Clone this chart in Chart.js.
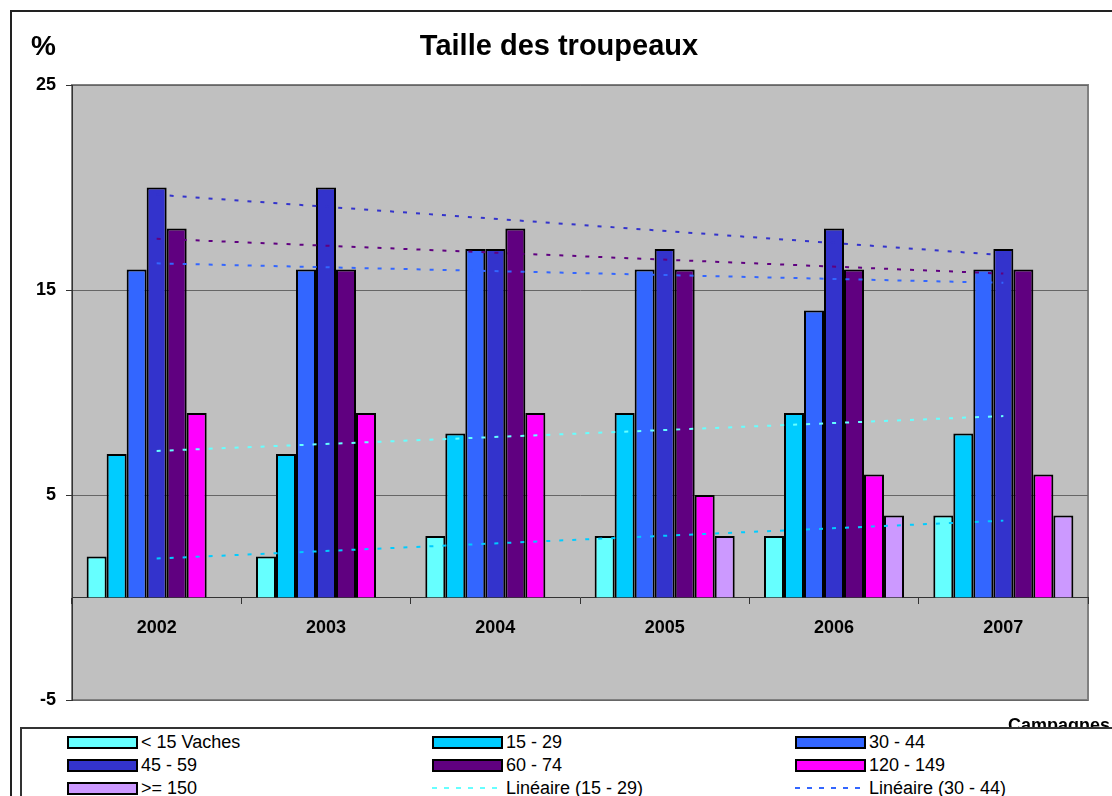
<!DOCTYPE html>
<html>
<head>
<meta charset="utf-8">
<script src="https://cdn.jsdelivr.net/npm/chart.js@4/dist/chart.umd.min.js"></script>
<style>
  html, body { margin: 0; padding: 0; background: #fff; }
  #wrap { position: relative; width: 1112px; height: 796px; overflow: hidden; font-family: "Liberation Sans", Arial, sans-serif; }
  #c { position: absolute; left: 0; top: 0; }
  #legend { position: absolute; left: 20px; top: 727px; width: 1200px; height: 200px; background: #fff; border: 2px solid #333; box-sizing: border-box; }
  .item { position: absolute; height: 20px; display: flex; align-items: center; font-size: 18px; color: #000; white-space: nowrap; }
  .sw { width: 71px; height: 13px; box-sizing: border-box; border: 2px solid #000; margin-right: 3px; }
  .ln { width: 71px; height: 2px; margin-right: 3px; }
</style>
</head>
<body>
<div id="wrap">
  <canvas id="c" width="1112" height="796"></canvas>
  <div id="legend"></div>
</div>
<script>
// ---- data ----
const chartTitle = 'Taille des troupeaux';
const yUnit = '%';
const xTitle = 'Campagnes';
const categories = ['2002', '2003', '2004', '2005', '2006', '2007'];
const seriesNames = ['< 15 Vaches', '15 - 29', '30 - 44', '45 - 59', '60 - 74', '120 - 149', '>= 150'];
const lt15    = [2, 2, 3, 3, 3, 4];
const s15_29  = [7, 7, 8, 9, 9, 8];
const s30_44  = [16, 16, 17, 16, 14, 16];
const s45_59  = [20, 20, 17, 17, 18, 17];
const s60_74  = [18, 16, 18, 16, 16, 16];
const s120_149 = [9, 9, 9, 5, 6, 6];
const ge150   = [null, null, null, 3, 4, 4];
// linear trend lines: start (2002) and end (2007) values
const trendLt15   = [1.9, null, null, null, null, 3.75];
const trend15_29  = [7.15, null, null, null, null, 8.85];
const trend30_44  = [16.3, null, null, null, null, 15.35];
const trend45_59  = [19.65, null, null, null, null, 16.7];
const trend60_74  = [17.5, null, null, null, null, 15.8];
const trendNames = ['Linéaire (15 - 29)', 'Linéaire (30 - 44)', 'Linéaire (< 15 Vaches)', 'Linéaire (45 - 59)', 'Linéaire (60 - 74)'];
const yTicks = [-5, 5, 15, 25];

// ---- styles ----
const barColors = ['#66FFFF', '#00CCFF', '#3366FF', '#3333CC', '#600080', '#FF00FF', '#CC99FF'];
const trendColors = ['#66FFFF', '#3366FF', '#00CCFF', '#3333CC', '#600080'];

const barSeries = [lt15, s15_29, s30_44, s45_59, s60_74, s120_149, ge150];
const trendSeries = [trend15_29, trend30_44, trendLt15, trend45_59, trend60_74];

const datasets = [];
barSeries.forEach((d, i) => datasets.push({
  type: 'bar', label: seriesNames[i], data: d,
  backgroundColor: barColors[i], borderColor: '#000', borderWidth: 2,
  categoryPercentage: 0.827, barPercentage: 1, order: 1
}));
trendSeries.forEach((d, i) => datasets.push({
  type: 'line', label: trendNames[i], data: d, spanGaps: true,
  borderColor: trendColors[i], borderWidth: 2, borderDash: [4, 9],
  pointRadius: 0, fill: false, tension: 0, order: 0
}));

Chart.defaults.font.family = '"Liberation Sans", Arial, sans-serif';
Chart.defaults.color = '#000';

const frame = {
  id: 'frame',
  beforeDraw(chart) {
    const ctx = chart.ctx;
    const a = chart.chartArea;
    ctx.save();
    ctx.fillStyle = '#fff';
    ctx.fillRect(0, 0, chart.width, chart.height);
    ctx.strokeStyle = '#222';
    ctx.lineWidth = 2;
    ctx.strokeRect(11, 11, 1300, 1000);
    ctx.fillStyle = '#C0C0C0';
    ctx.fillRect(a.left, a.top, a.right - a.left, a.bottom - a.top);
    ctx.strokeStyle = '#808080';
    ctx.lineWidth = 2;
    ctx.strokeRect(a.left, a.top, a.right - a.left, a.bottom - a.top);
    ctx.fillStyle = '#000';
    ctx.font = 'bold 28px "Liberation Sans", Arial, sans-serif';
    ctx.textBaseline = 'middle';
    ctx.textAlign = 'left';
    ctx.fillText(yUnit, 31, 47);
    ctx.font = 'bold 29px "Liberation Sans", Arial, sans-serif';
    ctx.textAlign = 'center';
    ctx.fillText(chartTitle, 559, 47);
    ctx.restore();
  },
  afterDraw(chart) {
    const ctx = chart.ctx;
    ctx.save();
    ctx.fillStyle = '#000';
    ctx.font = 'bold 18px "Liberation Sans", Arial, sans-serif';
    ctx.textBaseline = 'alphabetic';
    ctx.textAlign = 'left';
    ctx.fillText(xTitle, 1008, 731);
    ctx.restore();
  }
};

const chart = new Chart(document.getElementById('c'), {
  type: 'bar',
  data: { labels: categories, datasets },
  options: {
    responsive: false,
    animation: false,
    devicePixelRatio: 1,
    layout: { padding: { left: 0, right: 24, top: 85, bottom: 96 } },
    plugins: {
      legend: { display: false },
      tooltip: { enabled: false },
      title: { display: false }
    },
    scales: {
      x: {
        type: 'category',
        position: { y: 0 },
        offset: true,
        grid: { display: true, drawOnChartArea: false, drawTicks: true, tickLength: 6, tickColor: '#333', offset: true },
        border: { display: true, color: '#333', width: 1 },
        ticks: { font: { size: 18, weight: 'bold' }, color: '#000', padding: 14 }
      },
      y: {
        min: -5, max: 25,
        afterBuildTicks(scale) { scale.ticks = yTicks.map(v => ({ value: v })); },
        afterFit(scale) { scale.width = 72; },
        grid: { color: '#666', lineWidth: 1, tickLength: 6, tickColor: '#333' },
        border: { display: true, color: '#333', width: 1 },
        ticks: { font: { size: 18, weight: 'bold' }, color: '#000', padding: 10 }
      }
    }
  },
  plugins: [frame]
});

// ---- HTML legend (3 columns) ----
const legend = document.getElementById('legend');
const colX = [45, 410, 773];
const rowY = [3, 26, 49, 72, 95];
const legendItems = [];
for (let i = 0; i < 7; i++) legendItems.push({ text: seriesNames[i], color: barColors[i], kind: 'bar' });
for (let i = 0; i < trendNames.length; i++) legendItems.push({ text: trendNames[i], color: trendColors[i], kind: 'line' });
legendItems.forEach((it, k) => {
  const el = document.createElement('div');
  el.className = 'item';
  el.style.left = colX[k % 3] + 'px';
  el.style.top = rowY[Math.floor(k / 3)] + 'px';
  const sw = document.createElement('span');
  if (it.kind === 'bar') {
    sw.className = 'sw';
    sw.style.background = it.color;
  } else {
    sw.className = 'ln';
    sw.style.background = 'repeating-linear-gradient(to right, ' + it.color + ' 0px, ' + it.color + ' 5px, transparent 5px, transparent 12px)';
  }
  const tx = document.createElement('span');
  tx.textContent = it.text;
  el.appendChild(sw);
  el.appendChild(tx);
  legend.appendChild(el);
});
</script>
</body>
</html>
